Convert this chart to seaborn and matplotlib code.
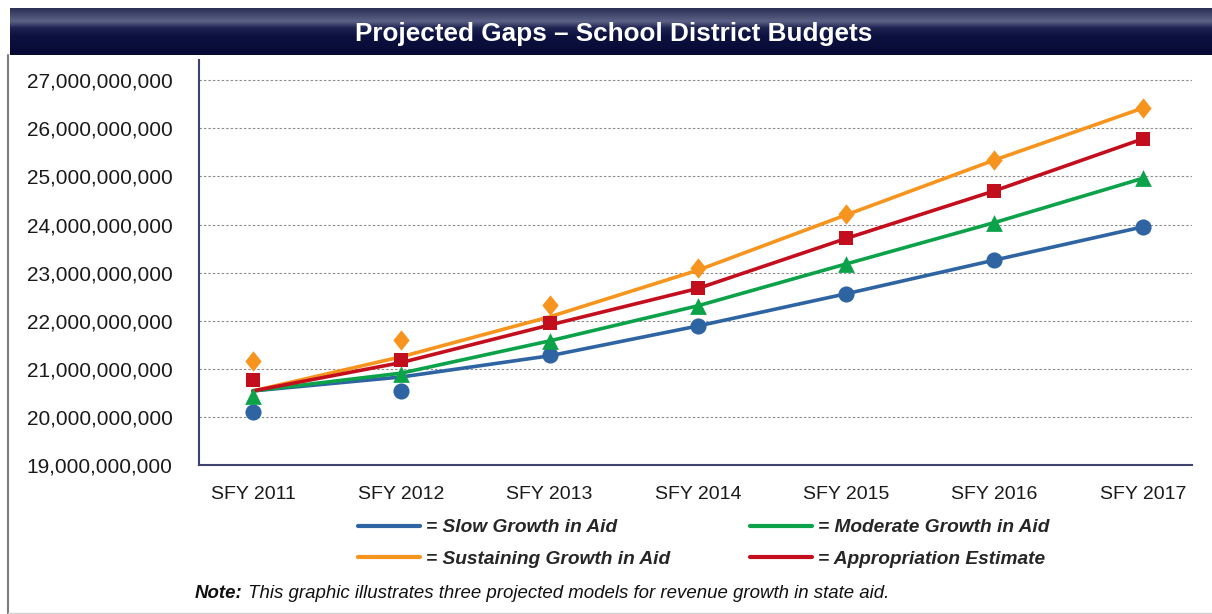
import numpy as np
import pandas as pd
import matplotlib
matplotlib.use("Agg")
import matplotlib.pyplot as plt
from matplotlib.lines import Line2D
from matplotlib.colors import LinearSegmentedColormap
from matplotlib.ticker import FuncFormatter
import seaborn as sns

# ---- data (billions of dollars) ------------------------------------------
years = ["SFY 2011", "SFY 2012", "SFY 2013", "SFY 2014", "SFY 2015", "SFY 2016", "SFY 2017"]
models = ["Slow Growth in Aid", "Sustaining Growth in Aid",
          "Moderate Growth in Aid", "Appropriation Estimate"]

# projected budget points (markers)
slow_pts = [20.11, 20.54, 21.29, 21.89, 22.56, 23.26, 23.95]
sustaining_pts = [21.17, 21.60, 22.33, 23.09, 24.22, 25.34, 26.42]
moderate_pts = [20.43, 20.89, 21.58, 22.31, 23.18, 24.04, 24.96]
appropriation_pts = [20.77, 21.18, 21.95, 22.68, 23.71, 24.70, 25.78]

# growth trend lines, all starting from the same base-year budget
slow_line = [20.54, 20.83, 21.27, 21.89, 22.56, 23.26, 23.95]
sustaining_line = [20.54, 21.25, 22.08, 23.05, 24.20, 25.34, 26.42]
moderate_line = [20.54, 20.91, 21.58, 22.31, 23.18, 24.04, 24.96]
appropriation_line = [20.54, 21.13, 21.91, 22.67, 23.71, 24.70, 25.78]

y_ticks = [19, 20, 21, 22, 23, 24, 25, 26, 27]

colors = {
    "Slow Growth in Aid": "#2f64a3",
    "Sustaining Growth in Aid": "#f7941d",
    "Moderate Growth in Aid": "#0ba24a",
    "Appropriation Estimate": "#c30f1d",
}
marker_shapes = {
    "Slow Growth in Aid": "o",
    "Sustaining Growth in Aid": [(0, 1), (0.8, 0), (0, -1), (-0.8, 0), (0, 1)],
    "Moderate Growth in Aid": "^",
    "Appropriation Estimate": "s",
}
marker_area = {
    "Slow Growth in Aid": 135,
    "Sustaining Growth in Aid": 215,
    "Moderate Growth in Aid": 145,
    "Appropriation Estimate": 105,
}

pts = {"Slow Growth in Aid": slow_pts, "Sustaining Growth in Aid": sustaining_pts,
       "Moderate Growth in Aid": moderate_pts, "Appropriation Estimate": appropriation_pts}
lines = {"Slow Growth in Aid": slow_line, "Sustaining Growth in Aid": sustaining_line,
         "Moderate Growth in Aid": moderate_line, "Appropriation Estimate": appropriation_line}

pts_df = pd.DataFrame([(m, y, v * 1e9) for m in models for y, v in zip(years, pts[m])],
                      columns=["model", "year", "value"])
line_df = pd.DataFrame([(m, y, v * 1e9) for m in models for y, v in zip(years, lines[m])],
                       columns=["model", "year", "value"])

# ---- figure --------------------------------------------------------------
sns.set_theme(style="white")
plt.rcParams["font.family"] = ["Liberation Sans", "DejaVu Sans"]

W, H = 1212, 614
fig = plt.figure(figsize=(W / 100, H / 100), dpi=100)
fig.patch.set_facecolor("white")

ax = fig.add_axes([199 / W, 1 - 465 / H, (1192 - 199) / W, (465 - 60) / H])

sns.lineplot(data=line_df, x="year", y="value", hue="model", hue_order=models,
             palette=colors, linewidth=2.6, sort=False, legend=False, ax=ax, zorder=3)

for m in models:
    sns.scatterplot(data=pts_df[pts_df["model"] == m], x="year", y="value",
                    color=colors[m], marker=marker_shapes[m], s=marker_area[m],
                    linewidth=0, legend=False, ax=ax, zorder=4)

ax.set_xlim(-0.364, 6.332)
ax.set_ylim(19e9, 27.42e9)
ax.set_yticks([t * 1e9 for t in y_ticks])
ax.yaxis.set_major_formatter(FuncFormatter(lambda v, _: f"{v:,.0f}"))
ax.set_xlabel("")
ax.set_ylabel("")

ax.grid(axis="y", color="#8c8c8c", linestyle=(0, (2.2, 1.8)), linewidth=0.8)
ax.grid(axis="x", visible=False)
ax.set_axisbelow(True)

for side in ("top", "right"):
    ax.spines[side].set_visible(False)
for side in ("left", "bottom"):
    ax.spines[side].set_color("#3f4170")
    ax.spines[side].set_linewidth(1.5)

ax.tick_params(axis="x", direction="inout", length=17, width=1.1, color="#333333",
               pad=6.5, labelsize=14, labelcolor="#1a1a1a")
ax.tick_params(axis="y", direction="out", length=12, width=0.8, color="#9a9a9a",
               pad=7, labelsize=15, labelcolor="#1a1a1a")

# ---- title banner ---------------------------------------------------------
bar = fig.add_axes([10 / W, 1 - 55 / H, (W - 10) / W, 47 / H])
banner = LinearSegmentedColormap.from_list(
    "banner", [(0.0, "#2b3157"), (0.28, "#5d6385"), (0.42, "#1e2452"),
               (0.6, "#0c1140"), (1.0, "#070a33")])
bar.imshow(np.linspace(0, 1, 64).reshape(-1, 1), aspect="auto", cmap=banner,
           extent=[0, 1, 0, 1], origin="upper")
bar.set_axis_off()
fig.text(614 / W, 1 - 34 / H, "Projected Gaps \u2013 School District Budgets",
         color="white", fontsize=18.8, fontweight="bold", ha="center", va="center")

# ---- frame lines ----------------------------------------------------------
fig.add_artist(Line2D([8 / W, 8 / W], [0, 1 - 55 / H], color="#7d7d7d", linewidth=1.5))
fig.add_artist(Line2D([8 / W, 1], [1.5 / H, 1.5 / H], color="#d4d4d4", linewidth=1.0))

# ---- legend ---------------------------------------------------------------
handles = [Line2D([], [], color=colors[m], linewidth=3) for m in models]
labels = ["= " + m for m in models]
fig.legend(handles, labels, ncol=2, frameon=False, loc="upper left",
           bbox_to_anchor=(358 / W, 1 - 519 / H), borderpad=0, borderaxespad=0,
           handlelength=3.23, handletextpad=0.3, columnspacing=4.2, labelspacing=0.72,
           prop={"size": 13.8, "weight": "bold", "style": "italic"})

# ---- note -----------------------------------------------------------------
note = fig.text(195 / W, 1 - 593 / H, "Note:", fontsize=13.4, fontweight="bold",
                fontstyle="italic", va="center", ha="left", color="#111111")
ax.annotate(" This graphic illustrates three projected models for revenue growth in state aid.",
            xy=(1, 0.5), xycoords=note, va="center", ha="left", fontsize=13.4,
            fontstyle="italic", color="#111111", annotation_clip=False)

fig.savefig("out.png", dpi=100, facecolor="white")
